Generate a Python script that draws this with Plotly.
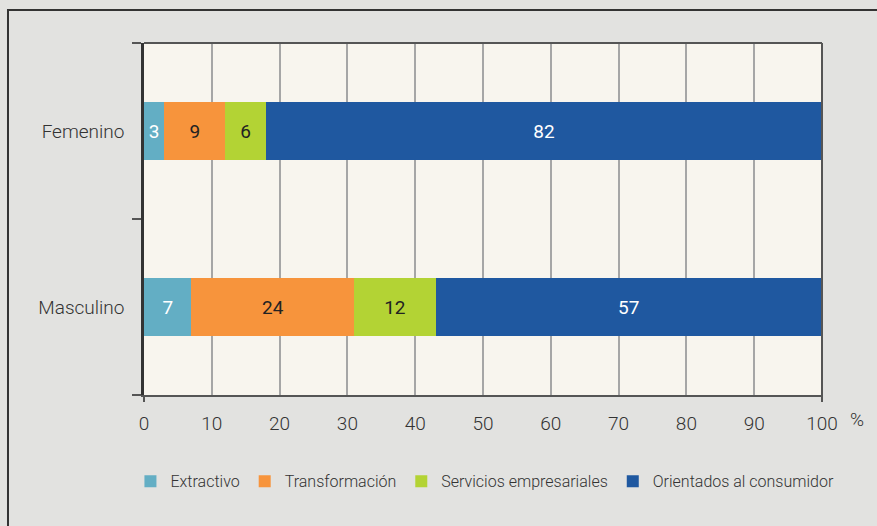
import plotly.graph_objects as go

sexo = ["Masculino", "Femenino"]
sectores = ["Extractivo", "Transformación", "Servicios empresariales", "Orientados al consumidor"]
valores = {
    "Extractivo": [7, 3],
    "Transformación": [24, 9],
    "Servicios empresariales": [12, 6],
    "Orientados al consumidor": [57, 82],
}
colores = ["#63aec4", "#f7943c", "#b3d334", "#1f58a0"]
color_texto = ["white", "#222222", "#222222", "white"]
ticks_x = [0, 10, 20, 30, 40, 50, 60, 70, 80, 90, 100]

fig = go.Figure()
for s, col, tc in zip(sectores, colores, color_texto):
    fig.add_trace(go.Bar(
        y=sexo, x=valores[s], name=s, orientation="h",
        marker=dict(color=col, line=dict(width=0)),
        text=valores[s], textposition="inside", insidetextanchor="middle",
        textfont=dict(color=tc, size=19, weight=400), constraintext="none",
    ))

fig.update_layout(
    barmode="stack", bargap=0.675,
    width=877, height=526,
    margin=dict(l=144, r=55, t=43, b=131),
    paper_bgcolor="#e2e2e0", plot_bgcolor="#f8f5ee",
    font=dict(family="Roboto", size=19, color="#333333", weight=300),
    legend=dict(orientation="h", x=-0.02, xanchor="left", y=-0.245, yanchor="middle",
                font=dict(size=16, color="#333333"), traceorder="normal",
                bgcolor="rgba(0,0,0,0)"),
)
fig.update_xaxes(range=[0, 100], tickvals=ticks_x, showgrid=True, gridcolor="#a6a6a6",
                 gridwidth=1.5, zeroline=False, showline=True, linecolor="#555555",
                 linewidth=2, ticks="", ticklabelstandoff=10, fixedrange=True)
fig.update_yaxes(showgrid=False, showline=True, linecolor="#333333", linewidth=2.5,
                 ticks="outside", tickson="boundaries", ticklen=9, tickwidth=2,
                 tickcolor="#555555", ticklabelstandoff=13, fixedrange=True)

# plot frame: top and right edges, tick stubs at 0 and 100
fig.add_shape(type="line", xref="paper", yref="paper", x0=0, x1=1, y0=1, y1=1,
              line=dict(color="#555555", width=2))
fig.add_shape(type="line", xref="paper", yref="paper", x0=1, x1=1, y0=-0.02, y1=1,
              line=dict(color="#555555", width=2))
fig.add_shape(type="line", xref="paper", yref="paper", x0=0, x1=0, y0=-0.02, y1=0,
              line=dict(color="#555555", width=2))
# outer box
fig.add_shape(type="rect", xref="paper", yref="paper", x0=-0.2006, x1=1.2, y0=-0.5, y1=1.0938,
              line=dict(color="#333333", width=2), layer="below")

fig.add_annotation(text="%", xref="paper", yref="paper", x=1.0516, y=-0.071,
                   xanchor="center", yanchor="middle",
                   showarrow=False, font=dict(size=19, color="#333333"))

fig.write_html("out.html", config={"displayModeBar": False},
               post_script="document.body.style.margin='0';")
